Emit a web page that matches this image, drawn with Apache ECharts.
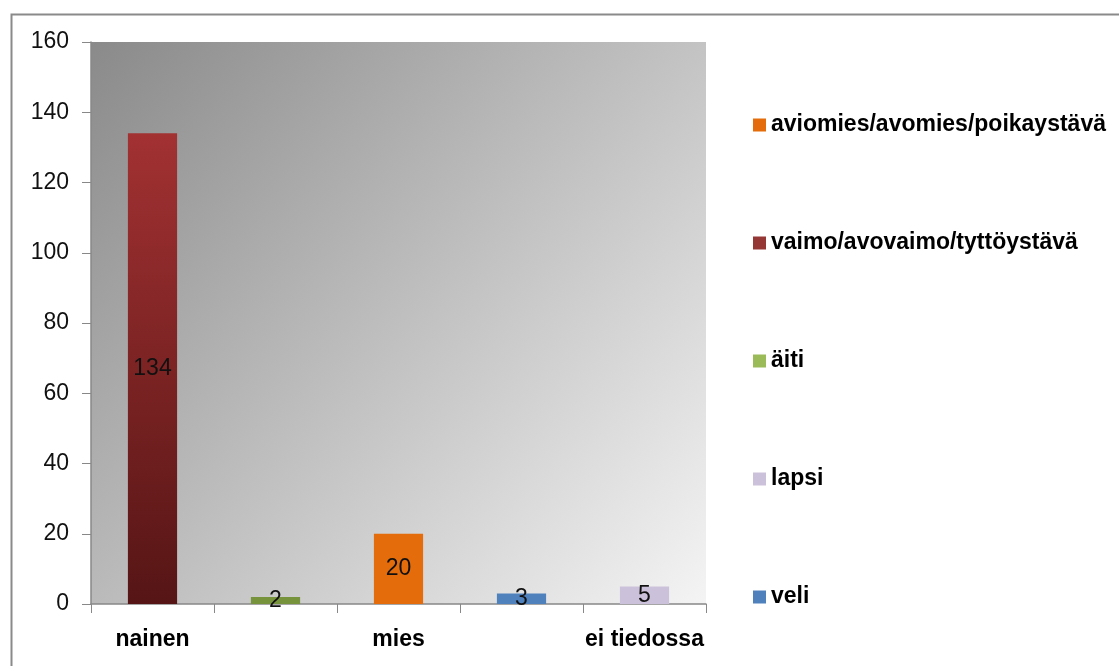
<!DOCTYPE html>
<html>
<head>
<meta charset="utf-8">
<script src="https://cdn.jsdelivr.net/npm/echarts@6/dist/echarts.min.js"></script>
<style>
  html, body { margin: 0; padding: 0; background: #fff; }
  #chart { width: 1119px; height: 666px; }
</style>
</head>
<body>
<div id="chart"></div>
<script>
// categories on the x axis (every other label is hidden in the original)
var categories = ['nainen', '', 'mies', '', 'ei tiedossa'];

// one series per relation, each has a value in a single category
var seriesNames = ['aviomies/avomies/poikaystävä', 'vaimo/avovaimo/tyttöystävä', 'äiti', 'lapsi', 'veli'];
var aviomies = [null, null, 20, null, null];
var vaimo = [134, null, null, null, null];
var aiti = [null, 2, null, null, null];
var lapsi = [null, null, null, null, 5];
var veli = [null, null, null, 3, null];

var yTicks = [0, 20, 40, 60, 80, 100, 120, 140, 160];

var colors = {
    aviomies: '#e46c0a',
    vaimo: new echarts.graphic.LinearGradient(0, 0, 0, 1, [
        { offset: 0, color: '#a23132' },
        { offset: 1, color: '#561515' }
    ]),
    aiti: '#77933c',
    lapsi: '#ccc1da',
    veli: '#4f81bd'
};

function makeSeries(name, values, color) {
    return {
        name: name,
        type: 'bar',
        stack: 'all',
        barWidth: '40%',
        data: values,
        itemStyle: { color: color },
        label: {
            show: true,
            position: 'inside',
            color: '#111',
            fontSize: 23,
            fontFamily: 'Liberation Sans',
            formatter: function (p) { return p.value == null ? '' : p.value; }
        }
    };
}

var chart = echarts.init(document.getElementById('chart'));
var option = {
    animation: false,
    backgroundColor: '#fff',
    graphic: [{
        type: 'rect',
        left: 9, top: 12,
        shape: { width: 1140, height: 700 },
        style: { fill: 'none', stroke: '#8a8a8a', lineWidth: 2 },
        silent: true
    }],
    grid: {
        left: 91, top: 42, width: 615, height: 562,
        show: true,
        borderWidth: 0,
        backgroundColor: new echarts.graphic.LinearGradient(0, 0, 1, 1, [
            { offset: 0, color: '#8a8a8a' },
            { offset: 1, color: '#f4f4f4' }
        ])
    },
    legend: {
        orient: 'vertical',
        left: 748,
        top: 108,
        itemWidth: 13,
        itemHeight: 13,
        itemGap: 94,
        icon: 'rect',
        data: [
            { name: seriesNames[0] },
            { name: seriesNames[1], itemStyle: { color: '#953735' } },
            { name: seriesNames[2], itemStyle: { color: '#9bbb59' } },
            { name: seriesNames[3] },
            { name: seriesNames[4] }
        ],
        textStyle: {
            fontSize: 23,
            fontWeight: 'bold',
            color: '#000',
            fontFamily: 'Liberation Sans',
            lineHeight: 24
        }
    },
    xAxis: {
        type: 'category',
        data: categories,
        axisLine: { lineStyle: { color: '#888', width: 1.5 } },
        axisTick: { show: true, interval: 0, length: 9, lineStyle: { color: '#888' } },
        axisLabel: {
            interval: 0,
            margin: 24,
            fontSize: 23,
            fontWeight: 'bold',
            color: '#000',
            fontFamily: 'Liberation Sans'
        }
    },
    yAxis: {
        type: 'value',
        min: yTicks[0],
        max: yTicks[yTicks.length - 1],
        interval: 20,
        splitLine: { show: false },
        axisLine: { show: true, lineStyle: { color: '#888', width: 1.5 } },
        axisTick: { show: true, length: 9, lineStyle: { color: '#888' } },
        axisLabel: {
            margin: 22,
            fontSize: 23,
            color: '#111',
            fontFamily: 'Liberation Sans'
        }
    },
    series: [
        makeSeries(seriesNames[0], aviomies, colors.aviomies),
        makeSeries(seriesNames[1], vaimo, colors.vaimo),
        makeSeries(seriesNames[2], aiti, colors.aiti),
        makeSeries(seriesNames[3], lapsi, colors.lapsi),
        makeSeries(seriesNames[4], veli, colors.veli)
    ]
};
chart.setOption(option);
</script>
</body>
</html>
